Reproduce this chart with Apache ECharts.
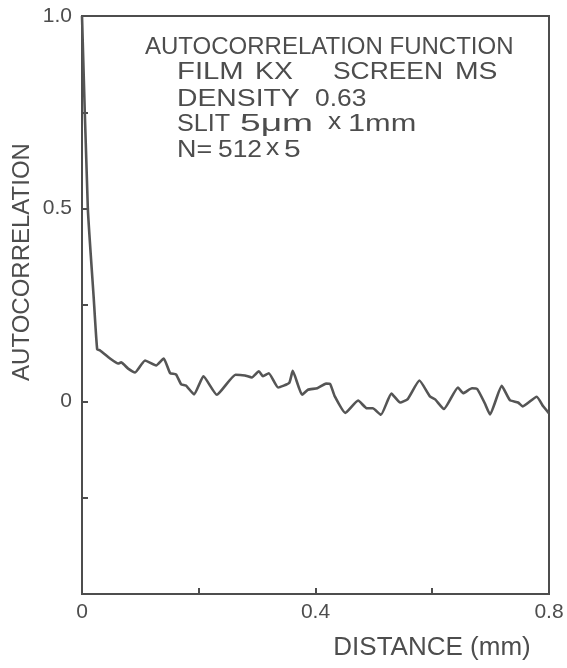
<!DOCTYPE html>
<html>
<head>
<meta charset="utf-8">
<script src="https://cdn.jsdelivr.net/npm/echarts@6/dist/echarts.min.js"></script>
<style>
  html, body { margin: 0; padding: 0; background: #fff; }
  #chart { width: 567px; height: 668px; }
</style>
</head>
<body>
<div id="chart"></div>
<script>
// distance (mm) and autocorrelation
var distance = [0, 0.010, 0.020, 0.026, 0.031, 0.048, 0.062, 0.067, 0.079, 0.091,
  0.108, 0.127, 0.140, 0.151, 0.161, 0.170, 0.178, 0.192, 0.208, 0.231,
  0.263, 0.279, 0.291, 0.303, 0.310, 0.320, 0.336, 0.355, 0.361, 0.377,
  0.387, 0.403, 0.418, 0.425, 0.433, 0.451, 0.473, 0.488, 0.498, 0.512,
  0.530, 0.545, 0.558, 0.578, 0.596, 0.605, 0.620, 0.644, 0.653, 0.668,
  0.677, 0.690, 0.699, 0.719, 0.733, 0.747, 0.755, 0.779, 0.790, 0.800]
var autocorr = [1.0, 0.50, 0.27, 0.135, 0.132, 0.111, 0.098, 0.101, 0.085, 0.075,
  0.106, 0.093, 0.111, 0.073, 0.070, 0.044, 0.041, 0.018, 0.065, 0.017,
  0.069, 0.067, 0.062, 0.078, 0.065, 0.073, 0.036, 0.048, 0.079, 0.017,
  0.030, 0.034, 0.046, 0.045, 0.013, -0.030, 0.002, -0.018, -0.018, -0.035,
  0.020, -0.003, 0.006, 0.054, 0.013, 0.005, -0.020, 0.036, 0.021, 0.034,
  0.032, -0.005, -0.034, 0.040, 0.003, -0.003, -0.013, 0.012, -0.013, -0.031]
var xLabels = ['0', '0.4', '0.8']
var yLabels = ['0', '0.5', '1.0']

var ink = '#4d4d4d'
var font = 'Liberation Sans'

// annotation words: [text, left x, middle y, horizontal stretch]
var notes = [
  ['AUTOCORRELATION FUNCTION', 145, 47, 1],
  ['FILM', 177, 72, 1.22], ['KX', 255, 72, 1.18], ['SCREEN', 333, 72, 1.1], ['MS', 455, 72, 1.18],
  ['DENSITY', 177, 99, 1.18], ['0.63', 315, 99, 1.1],
  ['SLIT', 177, 124, 1.05], ['5\u03bcm', 240, 124, 1.55], ['x', 328, 122, 1.1], ['1mm', 348, 124, 1.28],
  ['N=', 177, 150, 1.12], ['512', 218, 150, 1.1], ['x', 266, 148, 1.1], ['5', 284, 150, 1.25]
]

var chart = echarts.init(document.getElementById('chart'))

var points = distance.map(function (d, i) { return [d, autocorr[i]] })

function fmt(list) {
  return function (v) {
    var s = String(Math.round(v * 100) / 100)
    if (s === '1') s = '1.0'
    return list.indexOf(s) >= 0 ? s : ''
  }
}

var graphics = notes.map(function (n) {
  return {
    type: 'text', x: n[1], y: n[2], scaleX: n[3],
    style: { text: n[0], fontSize: 24, fontFamily: font, fill: ink, verticalAlign: 'middle' }
  }
})
graphics.push({
  type: 'text', x: 22, y: 262, rotation: Math.PI / 2,
  style: { text: 'AUTOCORRELATION', fontSize: 24, fontFamily: font, fill: ink, align: 'center', verticalAlign: 'middle' }
})
graphics.push({
  type: 'text', x: 432, y: 648,
  style: { text: 'DISTANCE (mm)', fontSize: 26, fontFamily: font, fill: ink, align: 'center', verticalAlign: 'middle' }
})

chart.setOption({
  backgroundColor: '#fff',
  animation: false,
  grid: {
    left: 82, top: 16, width: 467, height: 578,
    show: true, borderColor: ink, borderWidth: 2, backgroundColor: 'transparent'
  },
  xAxis: {
    type: 'value', min: 0, max: 0.8, interval: 0.2,
    axisLine: { onZero: false, lineStyle: { color: ink, width: 2 } },
    axisTick: { inside: true, length: 6, lineStyle: { color: ink, width: 2 } },
    splitLine: { show: false },
    axisLabel: {
      formatter: fmt(xLabels), color: ink, fontSize: 21, fontFamily: font, margin: 8,
      showMinLabel: true, showMaxLabel: true
    }
  },
  yAxis: {
    type: 'value', min: -0.5, max: 1.0, interval: 0.25,
    axisLine: { onZero: false, lineStyle: { color: ink, width: 2 } },
    axisTick: { inside: true, length: 6, lineStyle: { color: ink, width: 2 } },
    splitLine: { show: false },
    axisLabel: { formatter: fmt(yLabels), color: ink, fontSize: 21, fontFamily: font, margin: 10 }
  },
  series: [{
    type: 'line',
    data: points,
    showSymbol: false,
    smooth: 0.15,
    lineStyle: { color: '#555', width: 2.6 }
  }],
  graphic: graphics
})
</script>
</body>
</html>
